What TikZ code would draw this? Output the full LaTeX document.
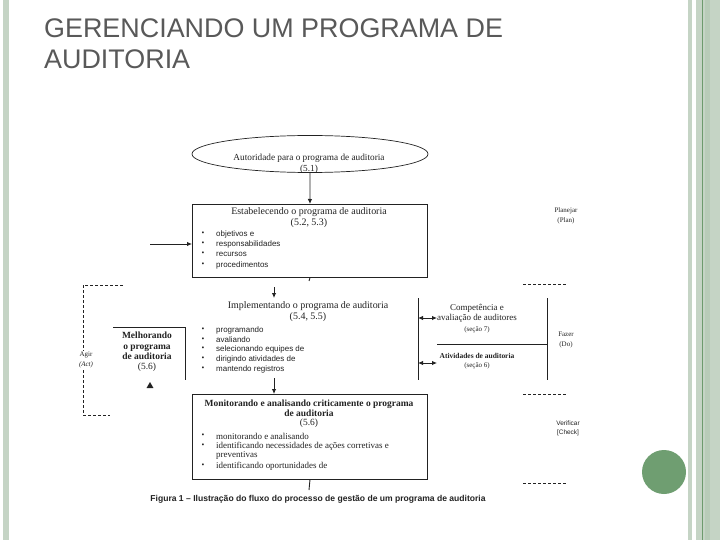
\documentclass[tikz,border=0pt]{standalone}
\usepackage{fontspec}
\setmainfont{Liberation Serif}
\setsansfont{Liberation Sans}
\usetikzlibrary{shapes.geometric,arrows.meta}
\definecolor{strip}{HTML}{C5D4C5}
\definecolor{stripd}{HTML}{B8CBB8}
\definecolor{stripline}{HTML}{6D9A6D}
\definecolor{dotc}{HTML}{6F9E71}
\definecolor{titlegray}{HTML}{595959}
\definecolor{ink}{HTML}{222222}
\begin{document}
\begin{tikzpicture}[x=1bp,y=-1bp,
  hd/.style={font=\fontsize{10}{10.8}\selectfont, text=ink, inner sep=0, align=center},
  hdb/.style={font=\bfseries\fontsize{9.5}{9.5}\selectfont, text=ink, inner sep=0, align=center},
  itm/.style={font=\sffamily\fontsize{8}{9}\selectfont, text=ink, anchor=west, inner sep=0},
  itmr/.style={font=\fontsize{9}{9}\selectfont, text=ink, anchor=west, inner sep=0},
  bul/.style={font=\fontsize{8}{8}\selectfont, text=ink, inner sep=0},
  lbl/.style={font=\fontsize{7}{10}\selectfont, text=ink, inner sep=0, align=center},
  ln/.style={draw=ink, line width=0.9bp},
  arr/.style={ln, -{Latex[length=5bp,width=4.5bp]}},
  darr/.style={ln, {Latex[length=5bp,width=4.5bp]}-{Latex[length=5bp,width=4.5bp]}},
  dsh/.style={draw=ink, line width=0.8bp, dash pattern=on 3bp off 2bp}]

\useasboundingbox[fill=white] (0,0) rectangle (720,540);

% slide frame
\fill[strip] (3,0) rectangle (9,540);
\fill[strip] (688,0) rectangle (692,540);
\fill[strip] (696,0) rectangle (720,540);
\fill[stripd] (705,0) rectangle (710,540);
\draw[stripline, line width=0.8bp] (702,0) -- (702,540);
\fill[dotc] (664,472) circle (22);

% title
\node[anchor=north west, font=\fontsize{27}{31}\selectfont\sffamily, text=titlegray, align=left, inner sep=0] (title) at (44,19) {GERENCIANDO UM PROGRAMA DE\\AUDITORIA};

% authority ellipse
\node[ellipse, draw=ink, line width=0.7bp, minimum width=236bp, minimum height=37bp, inner sep=0] (aut) at (310,154) {};
\node[font=\fontsize{9.3}{10.5}\selectfont, text=ink, inner sep=0, align=center] (autt) at (309,164) {Autoridade para o programa de auditoria\\(5.1)};

% establishing box
\node[draw=ink, line width=0.9bp, minimum width=235bp, minimum height=73bp, anchor=north west, inner sep=0] (estab) at (192,204) {};
\node[hd] (estt) at (309,217.5) {Estabelecendo o programa de auditoria\\(5.2, 5.3)};
\foreach \y/\t/\n in {234/objetivos e/a1, 244/responsabilidades/a2, 254/recursos/a3, 265/procedimentos/a4}{
  \node[bul] (b\n) at (203,\y) {\textbullet};
  \node[itm] (t\n) at (216,\y) {\t};
}
\draw[arr] (aut.south) -- (estab.north);
\coordinate (in1) at (150,244);
\draw[arr] (in1) -- (in1 -| estab.west);
\coordinate (tk1) at (309,281);
\draw[ln] (estab.south) -- (tk1);

% implementing
\coordinate (ia) at (274,287);
\coordinate (ib) at (274,298);
\draw[arr] (ia) -- (ib);
\node[hd] (impt) at (308,311.5) {Implementando o programa de auditoria\\(5.4, 5.5)};
\foreach \y/\t/\n in {330/programando/i1, 340/avaliando/i2, 349/selecionando equipes de/i3, 359/dirigindo atividades de/i4, 369/mantendo registros/i5}{
  \node[bul] (b\n) at (203,\y) {\textbullet};
  \node[itm] (t\n) at (216,\y) {\t};
}

% monitoring box
\node[draw=ink, line width=0.9bp, minimum width=235bp, minimum height=85bp, anchor=north west, inner sep=0] (mon) at (192,394) {};
\node[hdb] (mont) at (309,414) {Monitorando e analisando criticamente o programa\\de auditoria\\\mdseries(5.6)};
\foreach \y/\t/\n in {436/monitorando e analisando/m1, 446/identificando necessidades de ações corretivas e/m2, 466/identificando oportunidades de/m3}{
  \node[bul] (b\n) at (203,\y) {\textbullet};
  \node[itmr] (t\n) at (216,\y) {\t};
}
\node[itmr] (tm2b) at (216,455) {preventivas};
\coordinate (ma) at (274,378);
\draw[arr] (ma) -- (ma |- mon.north);
\coordinate (tk2) at (309,490);
\draw[ln] (mon.south) -- (tk2);

% caption
\node[font=\sffamily\bfseries\fontsize{8.6}{9}\selectfont, text=ink, inner sep=0] (cap) at (318,499) {Figura 1 – Ilustração do fluxo do processo de gestão de um programa de auditoria};

% improving
\coordinate (mm1) at (113,327);
\coordinate (mm2) at (185,327);
\coordinate (mm3) at (185,380);
\draw[ln] (mm1) -- (mm2) -- (mm3);
\node[font=\bfseries\fontsize{9.5}{10.3}\selectfont, text=ink, inner sep=0, align=center] (melt) at (147,352) {Melhorando\\o programa\\de auditoria\\\mdseries(5.6)};
\node[fill=ink, regular polygon, regular polygon sides=3, minimum size=8bp, inner sep=0] (tri) at (150,386) {};

% act loop
\coordinate (d1) at (123,285);
\coordinate (d2) at (83,285);
\coordinate (d3) at (83,415);
\coordinate (d4) at (110,415);
\draw[dsh] (d1) -- (d2) -- (d3) -- (d4);
\node[lbl, fill=white, inner sep=1bp] (agir) at (86,360) {Agir\\\textit{(Act)}};

% right side
\coordinate (r1) at (418,298);
\coordinate (r2) at (418,380);
\draw[ln] (r1) -- (r2);
\coordinate (c1) at (547,298);
\coordinate (c2) at (547,380);
\draw[ln] (c1) -- (c2);
\coordinate (h1) at (437,344);
\draw[ln] (h1) -- (h1 -| c1);
\node[font=\fontsize{9}{10}\selectfont, text=ink, inner sep=0, align=center] (comp) at (477,313) {Competência e\\avaliação de auditores};
\node[lbl] (comps) at (477,330) {(seção 7)};
\node[font=\bfseries\fontsize{7.5}{9}\selectfont, text=ink, inner sep=0] (ativ) at (477,356) {Atividades de auditoria};
\node[lbl] (ativs) at (477,366) {(seção 6)};
\coordinate (e1) at (437,318);
\coordinate (e2) at (437,363);
\draw[darr] (e1 -| r1) -- (e1);
\draw[darr] (e2 -| r1) -- (e2);

% PDCA labels
\node[lbl] (plan) at (566,216) {Planejar\\(Plan)};
\node[lbl] (fazer) at (566,340) {Fazer\\(Do)};
\node[lbl, font=\sffamily\fontsize{6.5}{9}\selectfont] (verif) at (568,428) {Verificar\\{[Check]}};
\coordinate (p1) at (523,284); \coordinate (p2) at (567,284);
\coordinate (p3) at (523,394); \coordinate (p4) at (567,394);
\coordinate (p5) at (523,483); \coordinate (p6) at (567,483);
\draw[dsh] (p1) -- (p2);
\draw[dsh] (p3) -- (p4);
\draw[dsh] (p5) -- (p6);
\end{tikzpicture}
\end{document}
